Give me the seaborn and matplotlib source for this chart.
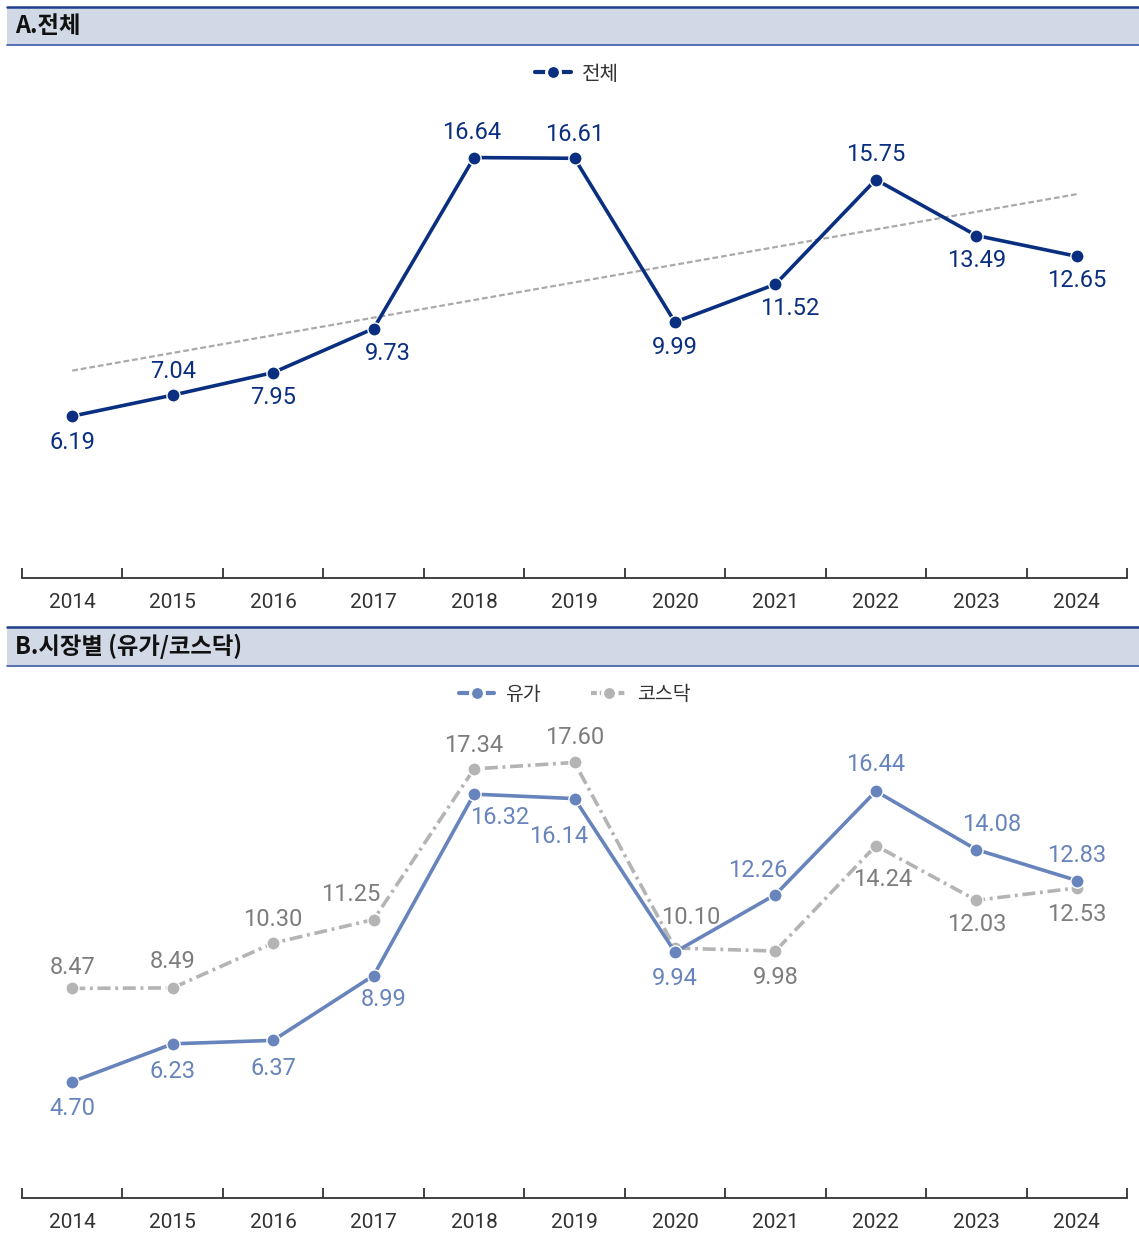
import numpy as np
import pandas as pd
import seaborn as sns
import matplotlib.pyplot as plt
from matplotlib.patches import Rectangle
from matplotlib.lines import Line2D

# ---- data ----
years = ["2014", "2015", "2016", "2017", "2018", "2019", "2020", "2021", "2022", "2023", "2024"]
total = [6.19, 7.04, 7.95, 9.73, 16.64, 16.61, 9.99, 11.52, 15.75, 13.49, 12.65]
kospi = [4.70, 6.23, 6.37, 8.99, 16.32, 16.14, 9.94, 12.26, 16.44, 14.08, 12.83]
kosdaq = [8.47, 8.49, 10.30, 11.25, 17.34, 17.60, 10.10, 9.98, 14.24, 12.03, 12.53]

title_a = "A.전체"
title_b = "B.시장별 (유가/코스닥)"
name_total = "전체"
name_kospi = "유가"
name_kosdaq = "코스닥"

# label offsets in pixels (dx, dy)
off_total = [(0, -26), (0, 24), (0, -25), (14, -25), (-2, 25), (0, 24),
             (0, -25), (14, -24), (0, 25), (0, -25), (0, -24)]
off_kospi = [(0, -27), (0, -28), (0, -28), (10, -24), (26, -23), (-16, -38),
             (0, -26), (-18, 24), (0, 27), (15, 25), (0, 25)]
off_kosdaq = [(0, 21), (0, 26), (0, 24), (-23, 25), (0, 23), (0, 25),
              (16, 31), (0, -26), (7, -34), (0, -24), (0, -27)]

# ---- style ----
sns.set_theme(style="white")
plt.rcParams["font.family"] = ["Noto Sans CJK KR", "DejaVu Sans"]
NUM_FONT = ["Roboto", "DejaVu Sans"]

NAVY = "#0B2F80"
BLUE = "#6884BC"
GRAY = "#B4B4B4"
GRAY_TXT = "#7D7D7D"
HEAD_BG = "#D1D8E6"
HEAD_LINE = "#1E3F8C"
TXT = "#333333"

W, H = 1139, 1243
fig = plt.figure(figsize=(W / 100, H / 100), dpi=100)


def fx(px):
    return px / W


def fy(py):
    return 1 - py / H


def header(top, bottom, text):
    fig.patches.append(Rectangle((fx(7), fy(bottom)), fx(W - 7), fy(top) - fy(bottom),
                                 transform=fig.transFigure, facecolor=HEAD_BG,
                                 edgecolor="none", zorder=0))
    fig.add_artist(Line2D([fx(7), 1], [fy(top), fy(top)], color=HEAD_LINE, lw=1.8,
                          transform=fig.transFigure))
    fig.add_artist(Line2D([fx(7), 1], [fy(bottom), fy(bottom)], color="#3A5CA6", lw=1.2,
                          transform=fig.transFigure))
    fig.text(fx(15), fy((top + bottom) / 2), text, fontsize=16.8, fontweight="bold",
             color="#111111", va="center", ha="left")


def setup_axis(ax, ylim):
    ax.set_xlim(-0.5, len(years) - 0.5)
    ax.set_ylim(*ylim)
    ax.set_xticks(range(len(years)))
    ax.set_xticklabels(years, family=NUM_FONT)
    ax.set_xticks(np.arange(-0.5, len(years), 1.0), minor=True)
    ax.tick_params(axis="x", which="major", length=0, pad=11, labelsize=15, labelcolor=TXT)
    ax.tick_params(axis="x", which="minor", direction="in", length=7, width=1.3,
                   color=TXT, bottom=True)
    ax.set_yticks([])
    ax.set_xlabel("")
    ax.set_ylabel("")
    for s in ["top", "left", "right"]:
        ax.spines[s].set_visible(False)
    ax.spines["bottom"].set_color(TXT)
    ax.spines["bottom"].set_linewidth(1.3)
    ax.patch.set_alpha(0)


def labels(ax, values, offsets, color):
    for i, (v, (dx, dy)) in enumerate(zip(values, offsets)):
        ax.annotate(f"{v:.2f}", (i, v), xytext=(dx, dy), textcoords="offset pixels",
                    ha="center", va="center", fontsize=17, color=color, zorder=6,
                    family=NUM_FONT)


x = np.arange(len(years))
df = pd.DataFrame({"x": x, "total": total, "kospi": kospi, "kosdaq": kosdaq})
mk = dict(marker="o", markersize=9.5, markeredgecolor="white", markeredgewidth=1.0)
leg_mk = dict(marker="o", markersize=10, markeredgecolor="white", markeredgewidth=2.2)

# ---- panel A ----
header(7, 45, title_a)
axA = fig.add_axes([fx(22), fy(578), fx(1105), 488 / H])
slope, icpt = np.polyfit(x, total, 1)
trend = pd.DataFrame({"x": x, "y": slope * x + icpt})
sns.lineplot(data=trend, x="x", y="y", ax=axA, color="#AAAAAA", linewidth=1.6,
             linestyle=(0, (2.6, 1.3)), zorder=1)
sns.lineplot(data=df, x="x", y="total", ax=axA, color=NAVY, linewidth=2.6, zorder=3, **mk)
labels(axA, total, off_total, NAVY)
setup_axis(axA, (-0.35, 19.37))

legA = [Line2D([], [], color=NAVY, lw=3.0, **leg_mk)]
fig.legend(legA, [name_total], loc="center", bbox_to_anchor=(fx(577), fy(74)),
           frameon=False, fontsize=14.5, handlelength=1.8, handletextpad=0.55,
           labelcolor=TXT)

# ---- panel B ----
header(627, 666, title_b)
axB = fig.add_axes([fx(22), fy(1198), fx(1105), 488 / H])
dashdot = (0, (3.6, 1.3, 0.8, 1.3))
sns.lineplot(data=df, x="x", y="kosdaq", ax=axB, color=GRAY, linewidth=2.6,
             linestyle=dashdot, zorder=2, **mk)
sns.lineplot(data=df, x="x", y="kospi", ax=axB, color=BLUE, linewidth=2.6, zorder=3, **mk)
labels(axB, kosdaq, off_kosdaq, GRAY_TXT)
labels(axB, kospi, off_kospi, BLUE)
setup_axis(axB, (0.0, 19.72))

legB = [Line2D([], [], color=BLUE, lw=3.0, **leg_mk),
        Line2D([], [], color=GRAY, lw=3.0, linestyle=(0, (1.4, 0.7, 0.5, 0.7)), **leg_mk)]
fig.legend(legB, [name_kospi, name_kosdaq], loc="center", bbox_to_anchor=(fx(575), fy(694)),
           frameon=False, fontsize=14, handlelength=1.8, handletextpad=0.55,
           columnspacing=2.6, ncol=2, labelcolor=TXT)

fig.savefig("out.png", dpi=100)
